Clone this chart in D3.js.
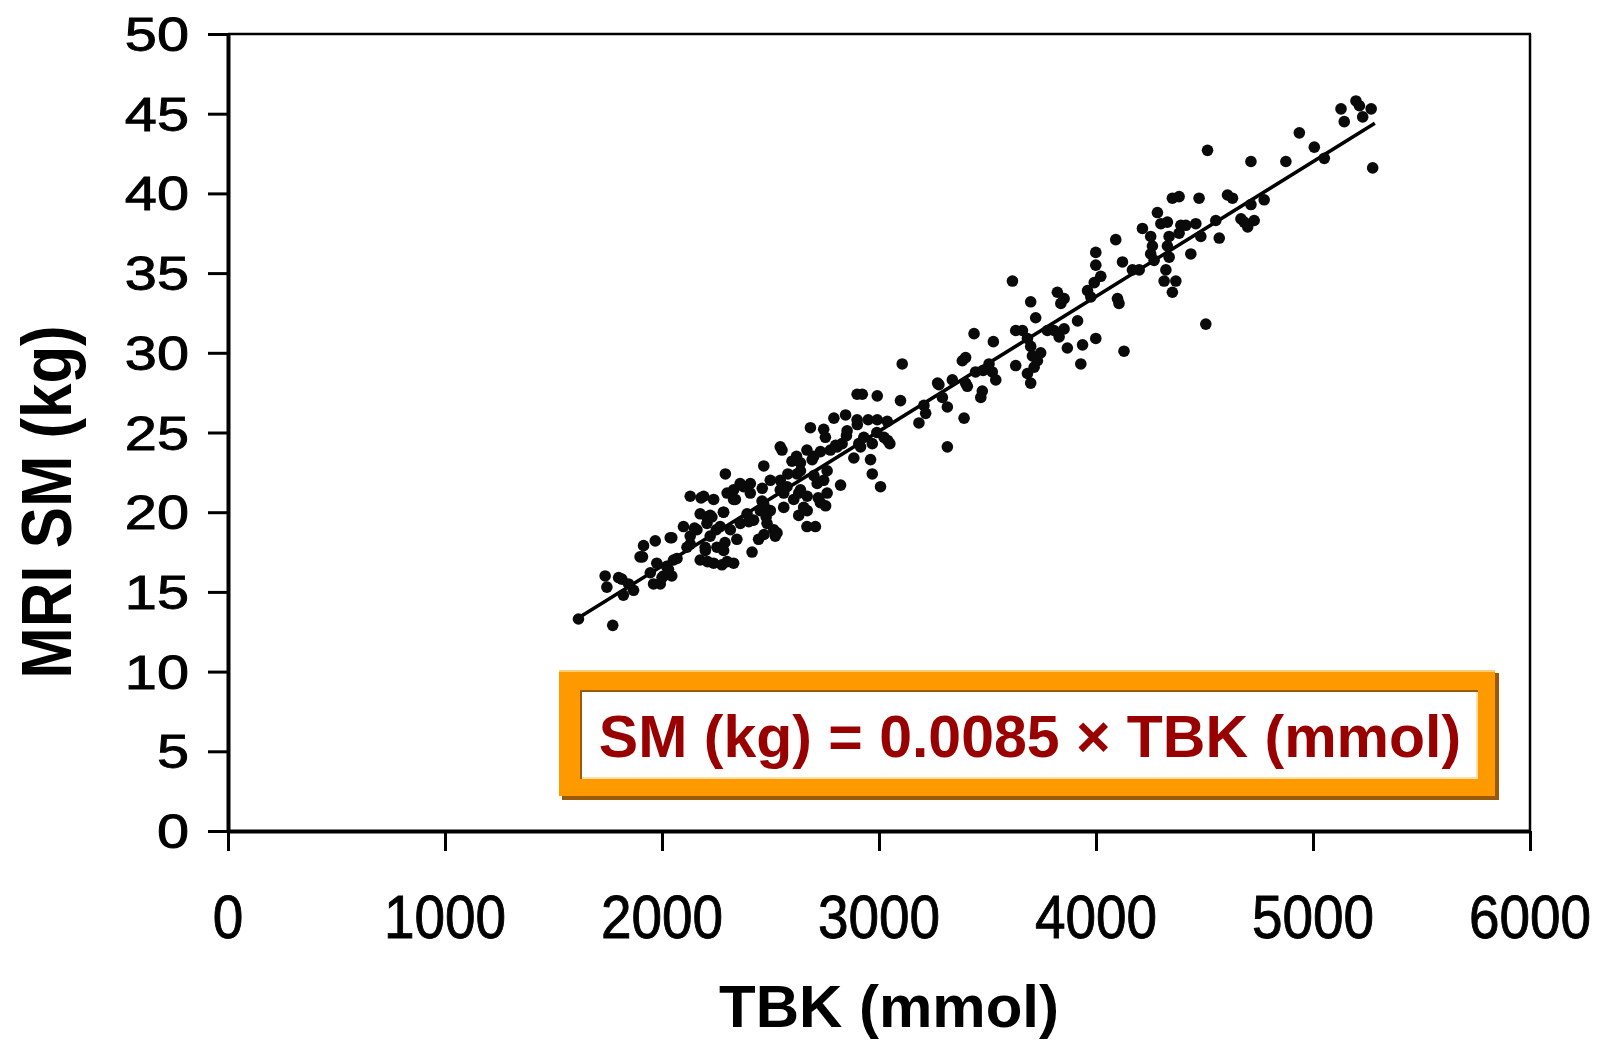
<!DOCTYPE html>
<html lang="en">
<head>
<meta charset="UTF-8">
<title>MRI SM vs TBK</title>
<script src="https://d3js.org/d3.v7.min.js"></script>
<style>
  body { margin: 0; background: #fff; }
  svg { display: block; font-family: "Liberation Sans", Arial, sans-serif; }
</style>
</head>
<body>
<svg id="chart" width="1599" height="1043"></svg>
<script>
// TBK (mmol) and MRI SM (kg)
const tbk = [
  1615,1773,1738,1746,1815,1822,1846,1899,1915,1969,1946,1976,1992,1961,2022,2045,2007,2045,2069,2099,
  2130,2130,2115,2161,2176,2192,2238,2207,2176,2199,2238,2276,2253,2284,2222,2268,2284,2292,2330,2345,
  2315,2361,2330,2376,2407,2338,2392,2422,2415,2445,2453,2469,2461,2484,2515,2499,2522,2545,2553,2545,
  2561,2576,2599,2622,2607,2638,2653,2668,2684,2699,2715,2730,2745,2753,2761,2792,2761,2776,2807,2707,
  2668,2638,2561,2499,
  2730,2830,2692,2638,2700,2745,2360,2407,2462,2545,2630,2669,2754,2720,2283,2330,2222,2469,2400,2480,
  2630,2669,2470,2530,2250,2207,2300,2180,2230,2150,2038,2130,2200,2290,1910,2000,2030,2053,2210,2300,
  1869,1800,2850,2900,2990,3040,2800,2915,2950,3050,2620,2580,
  2846,2899,2923,2992,2899,2884,2961,2969,3007,2823,2992,3038,3023,2853,2930,2907,2969,3099,3107,3184,
  3207,3215,3276,3292,3315,3315,3338,3392,3399,3407,3384,3399,3438,3445,3469,3476,3507,3522,3538,3527,
  3615,3630,3630,3661,3684,3699,3699,3707,3715,3684,3699,3722,3730,3745,3776,3822,3838,3853,3807,3830,
  3853,3868,3915,3938,3930,3999,3961,3992,3999,3999,3976,3270,3480,
  4022,4091,4099,4106,4122,4168,4199,4129,4214,4252,4260,4283,4299,4252,4268,4329,4337,4329,4337,4322,
  4314,4368,4352,4352,4383,4391,4383,4414,4437,4460,4475,4483,4506,4514,4552,4568,4606,4629,4668,4683,
  4699,4714,4729,4775,4714,4875,4937,5006,5052,5129,5144,5198,5214,5229,5268,5275
];
const sm = [
  13.3,12.9,16.0,15.3,15.8,14.8,15.5,17.2,17.9,18.2,16.2,16.8,15.5,15.5,16.6,16.0,16.0,18.4,17.1,19.1,
  18.5,21.0,17.8,18.9,19.9,21.0,20.8,19.7,17.0,17.8,16.8,16.7,17.8,17.6,18.5,19.1,20.0,22.4,16.8,18.3,
  18.9,19.3,21.4,21.6,21.8,20.8,19.9,19.5,17.5,18.3,20.1,22.9,20.7,19.3,18.9,20.1,18.5,24.1,23.9,22.0,
  21.2,21.6,23.2,22.4,20.8,21.4,20.3,19.1,25.3,23.5,21.8,20.6,25.2,24.7,22.6,25.9,21.2,23.9,24.1,19.1,
  23.9,23.1,20.3,22.0,
  23.8,24.3,23.3,22.6,22.3,22.0,21.8,21.2,21.5,21.4,21.2,21.0,20.4,20.9,20.0,20.8,19.8,20.5,19.4,19.7,
  19.8,20.1,18.6,18.7,18.9,19.3,21.2,20.9,19.7,19.0,18.4,18.0,17.6,18.1,17.2,15.9,16.4,17.0,16.9,16.9,
  15.1,15.9,24.8,25.5,25.0,24.5,24.2,24.1,25.8,24.3,23.5,22.4,
  26.1,27.4,27.4,27.3,25.8,23.4,23.3,22.4,21.6,21.7,25.8,25.7,24.7,25.1,24.7,24.3,24.3,27.0,29.3,25.6,
  26.7,26.2,28.0,27.2,26.6,24.1,28.3,25.9,28.1,27.9,29.5,29.7,31.2,28.8,27.2,27.6,29.3,28.8,28.3,30.7,
  34.5,29.2,31.4,31.4,30.9,33.2,30.4,29.8,29.1,28.7,28.1,32.2,29.5,30.0,31.4,33.8,33.1,33.4,31.4,31.0,
  31.5,30.3,32.0,30.5,29.3,30.9,33.9,34.4,35.5,36.3,33.5,28.1,28.9,
  34.8,37.1,33.4,33.1,35.7,35.2,35.2,30.1,37.8,37.3,36.7,38.8,38.1,36.2,35.8,38.2,37.3,36.7,36.0,35.2,
  34.5,34.5,33.8,39.7,39.8,38.0,37.5,38.0,36.2,38.1,39.7,37.3,31.8,42.7,38.3,37.2,39.9,39.7,38.4,38.2,
  37.9,39.3,38.3,39.6,42.0,42.0,43.8,42.9,42.2,45.3,44.5,45.8,45.5,44.8,45.3,41.6
];
// fitted line end points
const fitX = [1614, 5285];
const fitY = [13.36, 44.4];

const xTicks = [0, 1000, 2000, 3000, 4000, 5000, 6000];
const yTicks = [0, 5, 10, 15, 20, 25, 30, 35, 40, 45, 50];
const formula = "SM (kg) = 0.0085 \u00d7 TBK (mmol)";

const svg = d3.select("#chart");
const x = d3.scaleLinear().domain([0, 6000]).range([228, 1530]);
const y = d3.scaleLinear().domain([0, 50]).range([831, 34]);

// frame top + right
svg.append("line").attr("x1", x(0)).attr("x2", x(6000) + 1).attr("y1", y(50)).attr("y2", y(50))
  .attr("stroke", "#000").attr("stroke-width", 2.5);
svg.append("line").attr("x1", x(6000)).attr("x2", x(6000)).attr("y1", y(50)).attr("y2", y(0))
  .attr("stroke", "#000").attr("stroke-width", 2.5);

// axes
const gy = svg.append("g").attr("transform", `translate(${x(0)},0)`)
  .call(d3.axisLeft(y).tickValues(yTicks).tickSize(20).tickSizeOuter(0).tickFormat(""));
gy.select(".domain").attr("stroke-width", 4);
gy.selectAll(".tick line").attr("stroke-width", 3);

const gx = svg.append("g").attr("transform", `translate(0,${y(0)})`)
  .call(d3.axisBottom(x).tickValues(xTicks).tickSize(20).tickSizeOuter(0).tickFormat(""));
gx.select(".domain").attr("stroke-width", 4);
gx.selectAll(".tick line").attr("stroke-width", 3);

// tick labels
svg.append("g").selectAll("text").data(yTicks).join("text")
  .attr("transform", d => `translate(189,${y(d) + 17}) scale(1.19,1)`)
  .attr("text-anchor", "end").attr("font-size", 48.5).attr("fill", "#000")
  .attr("stroke", "#000").attr("stroke-width", 0.9)
  .text(d => d);

svg.append("g").selectAll("text").data(xTicks).join("text")
  .attr("transform", d => `translate(${x(d)},938) scale(0.9,1)`)
  .attr("text-anchor", "middle").attr("font-size", 61).attr("fill", "#000")
  .attr("stroke", "#000").attr("stroke-width", 0.9)
  .text(d => d);

// axis titles
svg.append("text").attr("x", 889).attr("y", 1027)
  .attr("text-anchor", "middle").attr("font-size", 60).attr("font-weight", "bold")
  .text("TBK (mmol)");
svg.append("text").attr("transform", "translate(71,502) rotate(-90) scale(0.87,1)")
  .attr("text-anchor", "middle").attr("font-size", 71).attr("font-weight", "bold")
  .text("MRI SM (kg)");

// fitted line
svg.append("path")
  .datum(fitX.map((v, i) => [v, fitY[i]]))
  .attr("d", d3.line().x(d => x(d[0])).y(d => y(d[1])))
  .attr("fill", "none").attr("stroke", "#000").attr("stroke-width", 3.5);

// points
svg.append("g").selectAll("circle").data(tbk).join("circle")
  .attr("cx", d => x(d))
  .attr("cy", (d, i) => y(sm[i]))
  .attr("r", 5.8)
  .attr("fill", "#0a0a0a");

// formula box
const box = svg.append("g");
box.append("rect").attr("x", 562).attr("y", 673).attr("width", 937).attr("height", 127).attr("fill", "#9a5a08");
box.append("rect").attr("x", 559).attr("y", 670).attr("width", 936).attr("height", 126).attr("fill", "#ff9900");
box.append("rect").attr("x", 559).attr("y", 670).attr("width", 936).attr("height", 2).attr("fill", "#ffcc77");
box.append("rect").attr("x", 580).attr("y", 690).attr("width", 898).attr("height", 89).attr("fill", "#9a5a08");
box.append("rect").attr("x", 582).attr("y", 692).attr("width", 896).attr("height", 87).attr("fill", "#ffe0a8");
box.append("rect").attr("x", 582).attr("y", 692).attr("width", 894).attr("height", 85).attr("fill", "#fff");
box.append("text").attr("x", 1030).attr("y", 757)
  .attr("text-anchor", "middle").attr("font-size", 59).attr("font-weight", "bold")
  .attr("fill", "#990000")
  .text(formula);
</script>
</body>
</html>
